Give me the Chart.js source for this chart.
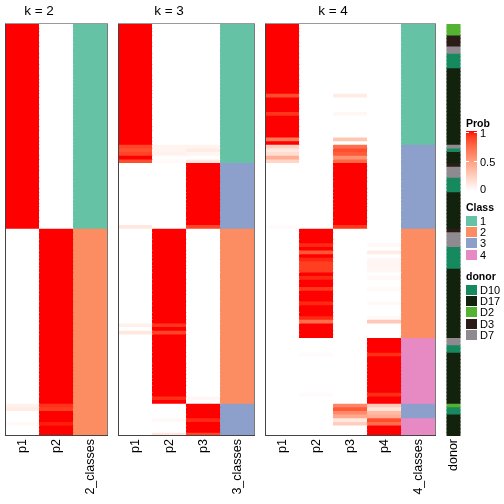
<!DOCTYPE html>
<html><head><meta charset="utf-8">
<script src="https://cdn.jsdelivr.net/npm/chart.js@4.4.1/dist/chart.umd.min.js"></script>
<style>
html,body{margin:0;padding:0;background:#fff;}
#wrap{position:relative;width:504px;height:504px;overflow:hidden;font-family:"Liberation Sans",Arial,Helvetica,sans-serif;color:#000;}
canvas{position:absolute;top:0;}
.title{position:absolute;top:3px;height:16px;line-height:16px;font-size:13.5px;transform:translateX(-50%);white-space:nowrap;}
.lg{position:absolute;font-size:11px;line-height:12px;height:12px;white-space:nowrap;}
.lgt{position:absolute;font-size:10.5px;font-weight:bold;line-height:12px;height:12px;white-space:nowrap;}
.sw{position:absolute;width:11px;height:10px;}
.tk{position:absolute;height:1px;background:#fff;}
</style></head><body>
<div id="wrap">
<canvas id="c2" width="103" height="504" style="left:5px"></canvas>
<canvas id="c3" width="137" height="504" style="left:118px"></canvas>
<canvas id="c4" width="171" height="504" style="left:265px"></canvas>
<canvas id="cd" width="26" height="504" style="left:441px"></canvas>
<div class="title" style="left:39px">k = 2</div>
<div class="title" style="left:169px">k = 3</div>
<div class="title" style="left:333px">k = 4</div>
<div id="legend"></div>
</div>
<script>
// ---------------- data ----------------
const K2_LABELS = ['p1','p2','2_classes'];
const K3_LABELS = ['p1','p2','p3','3_classes'];
const K4_LABELS = ['p1','p2','p3','p4','4_classes'];
const DONOR_LABEL = ['donor'];

const K2_P1 = [
1,1,1,1,1,1,1,1,1,1,
1,1,1,1,1,1,1,1,1,1,
1,1,1,1,1,1,1,1,1,1,
1,1,1,1,1,1,1,1,1,1,
1,1,1,1,1,1,1,1,1,1,
1,1,1,1,1,1,0,0,0,0,
0,0,0,0,0,0,0,0,0,0,
0,0,0,0,0,0,0,0,0,0,
0,0,0,0,0,0,0,0,0,0,
0,0,0,0,0,0,0,0,0,0,
0,0,0,0,.07,.1,0,0,0,.03,
0,0,0];
const K2_P2 = [
0,0,0,0,0,0,0,0,0,0,
0,0,0,0,0,0,0,0,0,0,
0,0,0,0,0,0,0,0,0,0,
0,0,0,0,0,0,0,0,0,0,
0,0,0,0,0,0,0,0,0,0,
0,0,0,0,0,0,1,1,1,1,
1,1,1,1,1,1,1,1,1,1,
1,1,1,1,1,1,1,1,1,1,
1,1,1,1,1,1,1,1,1,1,
1,1,1,1,1,1,1,1,1,1,
1,1,1,1,.93,.9,1,1,1,.97,
1,1,1];
const K2_CLASS = [
1,1,1,1,1,1,1,1,1,1,
1,1,1,1,1,1,1,1,1,1,
1,1,1,1,1,1,1,1,1,1,
1,1,1,1,1,1,1,1,1,1,
1,1,1,1,1,1,1,1,1,1,
1,1,1,1,1,1,2,2,2,2,
2,2,2,2,2,2,2,2,2,2,
2,2,2,2,2,2,2,2,2,2,
2,2,2,2,2,2,2,2,2,2,
2,2,2,2,2,2,2,2,2,2,
2,2,2,2,2,2,2,2,2,2,
2,2,2];

const K3_P1 = [
1,1,1,1,1,1,1,1,1,1,
1,1,1,1,1,1,1,1,1,1,
1,1,1,1,1,1,1,1,1,1,
1,1,1,.88,.84,.88,1,.85,0,0,
0,0,0,0,0,0,0,0,0,0,
0,0,0,0,0,.12,0,0,0,0,
0,0,0,0,0,0,0,0,0,0,
0,0,0,0,0,0,0,0,0,0,
0,0,.08,0,.12,0,0,0,0,0,
0,0,0,0,0,0,0,0,0,0,
0,0,0,0,0,0,0,0,0,0,
0,0,0];
const K3_P2 = [
0,0,0,0,0,0,0,0,0,0,
0,0,0,0,0,0,0,0,0,0,
0,0,0,0,0,0,0,0,0,0,
0,0,0,.06,.06,.07,0,.03,0,0,
0,0,0,0,0,0,0,0,0,0,
0,0,0,0,0,0,1,1,1,1,
1,1,1,1,1,1,1,1,1,1,
1,1,1,1,1,1,1,1,1,1,
1,1,.92,1,.88,1,1,1,1,1,
1,1,1,1,1,1,1,1,1,1,
1,1,.94,1,0,0,0,0,.03,0,
0,0,.12];
const K3_P3 = [
0,0,0,0,0,0,0,0,0,0,
0,0,0,0,0,0,0,0,0,0,
0,0,0,0,0,0,0,0,0,0,
0,0,0,.06,.1,.05,0,.12,1,1,
1,1,1,1,1,1,1,1,1,1,
1,1,1,1,1,.88,0,0,0,0,
0,0,0,0,0,0,0,0,0,0,
0,0,0,0,0,0,0,0,0,0,
0,0,0,0,0,0,0,0,0,0,
0,0,0,0,0,0,0,0,0,0,
0,0,.04,0,1,1,1,1,.95,1,
1,1,.88];
const K3_CLASS = [
1,1,1,1,1,1,1,1,1,1,
1,1,1,1,1,1,1,1,1,1,
1,1,1,1,1,1,1,1,1,1,
1,1,1,1,1,1,1,1,3,3,
3,3,3,3,3,3,3,3,3,3,
3,3,3,3,3,3,2,2,2,2,
2,2,2,2,2,2,2,2,2,2,
2,2,2,2,2,2,2,2,2,2,
2,2,2,2,2,2,2,2,2,2,
2,2,2,2,2,2,2,2,2,2,
2,2,2,2,3,3,3,3,3,3,
3,3,3];

const K4_P1 = [
1,1,1,1,1,1,1,1,1,1,
1,1,1,1,1,1,1,1,1,.85,
1,1,1,1,.92,1,1,1,1,1,
1,.68,1,.25,.12,.18,.42,.22,0,0,
0,0,0,0,0,0,0,0,0,0,
0,0,0,0,0,.02,0,0,0,0,
0,0,0,0,0,0,0,0,0,0,
0,0,0,0,0,0,0,0,0,0,
0,0,0,0,0,0,0,0,0,0,
0,0,0,0,0,0,0,0,0,0,
0,0,0,0,0,0,0,0,0,0,
0,0,0];
const K4_P2 = [
0,0,0,0,0,0,0,0,0,0,
0,0,0,0,0,0,0,0,0,0,
0,0,0,0,0,0,0,0,0,0,
0,0,0,0,0,0,0,0,0,0,
0,0,0,0,0,0,0,0,0,0,
0,0,0,0,0,0,1,1,1,1,
.95,1,.82,1,.95,.9,.9,.9,1,.95,
1,1,.92,1,1,1,.95,1,1,1,
.95,.72,1,1,1,1,0,0,0,0,
.02,0,0,0,0,0,0,0,0,0,
0,.02,0,0,0,0,0,0,0,0,
0,0,0];
const K4_P3 = [
0,0,0,0,0,0,0,0,0,0,
0,0,0,0,0,0,0,0,0,.1,
0,0,0,0,.04,0,0,0,0,0,
0,.3,0,.72,.85,.8,.55,.75,1,1,
1,1,1,1,1,1,1,1,1,1,
1,1,1,1,1,.92,0,0,0,0,
0,0,0,0,0,0,0,0,0,0,
0,0,0,0,0,0,0,0,0,0,
0,0,0,0,0,0,0,0,0,0,
0,0,0,0,0,0,0,0,0,0,
0,0,0,0,.62,.8,.6,.45,.12,.26,
0,0,0];
const K4_P4 = [
0,0,0,0,0,0,0,0,0,0,
0,0,0,0,0,0,0,0,0,0,
0,0,0,0,0,0,0,0,0,0,
0,0,0,0,0,0,0,0,0,0,
0,0,0,0,0,0,0,0,0,0,
0,0,0,0,0,0,0,0,0,0,
.03,0,.1,0,.04,.05,.05,.04,0,.03,
0,0,.03,0,0,0,.03,0,0,0,
.03,.28,0,0,0,0,1,1,1,1,
.94,1,1,1,1,1,1,1,1,1,
1,.94,1,1,.28,.15,.36,.42,.85,.72,
1,1,1];
const K4_CLASS = [
1,1,1,1,1,1,1,1,1,1,
1,1,1,1,1,1,1,1,1,1,
1,1,1,1,1,1,1,1,1,1,
1,1,1,3,3,3,3,3,3,3,
3,3,3,3,3,3,3,3,3,3,
3,3,3,3,3,3,2,2,2,2,
2,2,2,2,2,2,2,2,2,2,
2,2,2,2,2,2,2,2,2,2,
2,2,2,2,2,2,4,4,4,4,
4,4,4,4,4,4,4,4,4,4,
4,4,4,4,3,3,3,3,4,4,
4,4,4];

const DONOR = [
'D2','D2','D2','D3','D3','D3','D7','D7','D10','D10',
'D10','D10','D17','D17','D17','D17','D17','D17','D17','D17',
'D17','D17','D17','D17','D17','D17','D17','D17','D17','D17',
'D17','D17','D17','D7','D10','D17','D17','D17','D3','D7',
'D7','D7','D10','D10','D10','D10','D17','D17','D17','D17',
'D17','D17','D17','D17','D17','D17','D3','D7','D7','D7',
'D7','D10','D10','D10','D10','D10','D10','D17','D17','D17',
'D17','D17','D17','D17','D17','D17','D17','D17','D17','D17',
'D17','D17','D17','D17','D17','D17','D7','D7','D10','D10',
'D17','D17','D17','D17','D17','D17','D17','D17','D17','D17',
'D17','D17','D17','D17','D2','D10','D10','D17','D17','D17',
'D17','D17','D17'];

const PROB_TICKS = ['1','0.5','0'];
const CLASS_NAMES = ['1','2','3','4'];
const DONOR_NAMES = ['D10','D17','D2','D3','D7'];

// ---------------- styles ----------------
const CLASS_COLORS = ['#66C2A5','#FC8D62','#8DA0CB','#E78AC3'];
const DONOR_COLORS = {D10:'#16895F', D17:'#13220C', D2:'#54B232', D3:'#2B1C17', D7:'#8F8A90'};
const FONT = '"Liberation Sans", Arial, Helvetica, sans-serif';

function s2l(c){c/=255;return c<=0.04045?c/12.92:Math.pow((c+0.055)/1.055,2.4);}
function l2s(c){c=c<=0.0031308?12.92*c:1.055*Math.pow(c,1/2.4)-0.055;return Math.round(Math.max(0,Math.min(1,c))*255);}
function rgbToLab(r,g,b){
  const R=s2l(r),G=s2l(g),B=s2l(b);
  const X=(0.4124564*R+0.3575761*G+0.1804375*B)/0.95047;
  const Y=(0.2126729*R+0.7151522*G+0.0721750*B);
  const Z=(0.0193339*R+0.1191920*G+0.9503041*B)/1.08883;
  const f=t=>t>0.008856?Math.cbrt(t):(7.787*t+16/116);
  const fx=f(X),fy=f(Y),fz=f(Z);
  return [116*fy-16,500*(fx-fy),200*(fy-fz)];
}
function labToRgb(L,a,b){
  const fy=(L+16)/116,fx=fy+a/500,fz=fy-b/200;
  const fi=t=>t*t*t>0.008856?t*t*t:(t-16/116)/7.787;
  const X=fi(fx)*0.95047,Y=fi(fy),Z=fi(fz)*1.08883;
  const R=3.2404542*X-1.5371385*Y-0.4985314*Z;
  const G=-0.9692660*X+1.8760108*Y+0.0415560*Z;
  const B=0.0556434*X-0.2040259*Y+1.0572252*Z;
  return [l2s(R),l2s(G),l2s(B)];
}
const LAB0=rgbToLab(255,255,255), LAB1=rgbToLab(255,0,0);
function probColor(p){
  const L=LAB0[0]+(LAB1[0]-LAB0[0])*p, a=LAB0[1]+(LAB1[1]-LAB0[1])*p, b=LAB0[2]+(LAB1[2]-LAB0[2])*p;
  const c=labToRgb(L,a,b);
  return 'rgb('+c[0]+','+c[1]+','+c[2]+')';
}

const borderPlugin = {
  id:'hmBorder',
  afterDatasetsDraw(chart, args, opts){
    if(!opts.show) return;
    const a=chart.chartArea, ctx=chart.ctx;
    const L=Math.round(a.left-0.5)+0.5, R=Math.round(a.right-0.5)+0.5;
    const T=Math.round(a.top)-0.5, B=Math.round(a.bottom)-0.5;
    ctx.save();
    ctx.lineWidth=1;
    ctx.strokeStyle='#9a9a9a';
    ctx.beginPath();ctx.moveTo(L,T);ctx.lineTo(R,T);ctx.stroke();
    ctx.strokeStyle='#7a7a7a';
    ctx.beginPath();ctx.moveTo(R,T);ctx.lineTo(R,B);ctx.stroke();
    ctx.strokeStyle='#444';
    ctx.beginPath();ctx.moveTo(L,T);ctx.lineTo(L,B+0.5);ctx.stroke();
    ctx.beginPath();ctx.moveTo(L,B);ctx.lineTo(R+0.5,B);ctx.stroke();
    ctx.restore();
  }
};

function makeHeat(id, labels, rowColors, showBorder, padL, padR){
  const n = rowColors.length;
  const datasets = rowColors.map(cols => ({
    data: labels.map(() => 1),
    backgroundColor: cols,
    borderWidth: 0,
    barPercentage: 1,
    categoryPercentage: 1,
    inflateAmount: 0.5,
    stack: 's'
  }));
  return new Chart(document.getElementById(id), {
    type:'bar',
    data:{labels:labels, datasets:datasets},
    options:{
      responsive:false, animation:false, events:[],
      layout:{padding:{top:24,left:padL,right:padR,bottom:0}},
      plugins:{legend:{display:false}, tooltip:{enabled:false}, title:{display:false}, hmBorder:{show:showBorder}},
      scales:{
        x:{stacked:true, grid:{display:false, drawTicks:false, tickLength:0}, border:{display:false},
           ticks:{autoSkip:false, minRotation:90, maxRotation:90, padding:3, color:'#000', font:{size:12.5, family:FONT}},
           afterFit:s=>{s.height=68; s.paddingLeft=0; s.paddingRight=0;}},
        y:{stacked:true, display:false, min:0, max:n, reverse:true}
      }
    },
    plugins:[borderPlugin]
  });
}

const N = DONOR.length;
const rows2=[], rows3=[], rows4=[], rowsD=[];
for(let i=0;i<N;i++){
  rows2.push([probColor(K2_P1[i]), probColor(K2_P2[i]), CLASS_COLORS[K2_CLASS[i]-1]]);
  rows3.push([probColor(K3_P1[i]), probColor(K3_P2[i]), probColor(K3_P3[i]), CLASS_COLORS[K3_CLASS[i]-1]]);
  rows4.push([probColor(K4_P1[i]), probColor(K4_P2[i]), probColor(K4_P3[i]), probColor(K4_P4[i]), CLASS_COLORS[K4_CLASS[i]-1]]);
  rowsD.push([DONOR_COLORS[DONOR[i]]]);
}
makeHeat('c2', K2_LABELS, rows2, true, 0.5, 0.5);
makeHeat('c3', K3_LABELS, rows3, true, 0.5, 0.5);
makeHeat('c4', K4_LABELS, rows4, true, 0.5, 0.5);
makeHeat('cd', DONOR_LABEL, rowsD, false, 5.5, 6.5);

// ---------------- legend ----------------
const lg = document.getElementById('legend');
function add(html){ lg.insertAdjacentHTML('beforeend', html); }
add('<div class="lgt" style="left:466px;top:116.5px">Prob</div>');
const stops=[];
for(let k=0;k<=20;k++){ stops.push(probColor(1-k/20)+' '+(k*5)+'%'); }
add('<div style="position:absolute;left:466px;top:131px;width:11px;height:60px;background:linear-gradient(to bottom,'+stops.join(',')+')"></div>');
[132, 161].forEach(y=>{
  add('<div class="tk" style="left:466px;width:3px;top:'+y+'px"></div>');
  add('<div class="tk" style="left:474px;width:3px;top:'+y+'px"></div>');
});
const probY=[127.3,155.7,183.3];
PROB_TICKS.forEach((t,i)=>add('<div class="lg" style="left:480px;top:'+probY[i]+'px">'+t+'</div>'));
add('<div class="lgt" style="left:466px;top:200.5px">Class</div>');
CLASS_NAMES.forEach((t,i)=>{
  const top=216+i*11.2;
  add('<div class="sw" style="left:466px;top:'+top+'px;background:'+CLASS_COLORS[i]+'"></div>');
  add('<div class="lg" style="left:480px;top:'+(top-1)+'px">'+t+'</div>');
});
add('<div class="lgt" style="left:466px;top:269.5px">donor</div>');
DONOR_NAMES.forEach((t,i)=>{
  const top=285+i*11.2;
  add('<div class="sw" style="left:466px;top:'+top+'px;background:'+DONOR_COLORS[t]+'"></div>');
  add('<div class="lg" style="left:480px;top:'+(top-1)+'px">'+t+'</div>');
});
</script>
</body></html>
